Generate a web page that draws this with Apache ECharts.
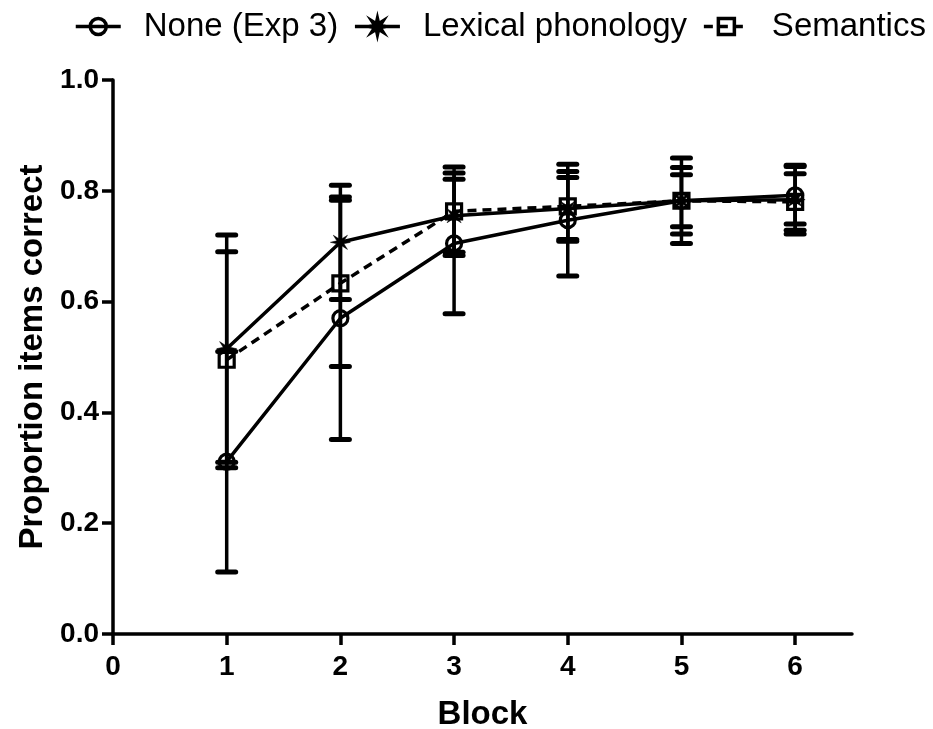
<!DOCTYPE html>
<html><head><meta charset="utf-8">
<script src="https://cdn.jsdelivr.net/npm/echarts@6/dist/echarts.min.js"></script>
<style>html,body{margin:0;padding:0;background:#fff}#c{width:933px;height:729px}</style>
</head><body><div id="c"></div>
<script>
// ---- data ----
const blocks = [1, 2, 3, 4, 5, 6];
const seriesNames = ['None (Exp 3)', 'Lexical phonology', 'Semantics'];
const noneMean = [0.311, 0.570, 0.705, 0.747, 0.782, 0.792];
const noneSD   = [0.199, 0.219, 0.127, 0.101, 0.077, 0.052];
const lexMean  = [0.515, 0.707, 0.755, 0.768, 0.782, 0.784];
const lexSD    = [0.205, 0.103, 0.066, 0.056, 0.060, 0.062];
const semMean  = [0.495, 0.633, 0.763, 0.772, 0.782, 0.780];
const semSD    = [0.195, 0.150, 0.080, 0.063, 0.047, 0.051];
const xTickValues = [0, 1, 2, 3, 4, 5, 6];
const xAxisName = 'Block';
const yAxisName = 'Proportion items correct';

// ---- styling helpers ----
const FONT = '"Liberation Sans", Arial, sans-serif';
function starPath() {
  let pts = [];
  for (let k = 0; k < 8; k++) {
    const a1 = (k * 45 - 90) * Math.PI / 180;
    const a2 = (k * 45 + 22.5 - 90) * Math.PI / 180;
    pts.push([Math.cos(a1) * 10, Math.sin(a1) * 10]);
    pts.push([Math.cos(a2) * 3.8, Math.sin(a2) * 3.8]);
  }
  return 'path://M' + pts.map(p => p[0].toFixed(2) + ',' + p[1].toFixed(2)).join('L') + 'Z';
}
function errRender(params, api) {
  const x = api.value(0), lo = api.value(1), hi = api.value(2);
  const a = api.coord([x, lo]), b = api.coord([x, hi]);
  const hw = 9;
  return {
    type: 'group',
    children: [
      { type: 'line', shape: { x1: a[0], y1: a[1], x2: b[0], y2: b[1] }, style: { stroke: '#000', lineWidth: 3.5 } },
      { type: 'line', shape: { x1: b[0] - hw, y1: b[1], x2: b[0] + hw, y2: b[1] }, style: { stroke: '#000', lineWidth: 5, lineCap: 'round' } },
      { type: 'line', shape: { x1: a[0] - hw, y1: a[1], x2: a[0] + hw, y2: a[1] }, style: { stroke: '#000', lineWidth: 5, lineCap: 'round' } }
    ]
  };
}
function errData(m, s) { return blocks.map((b, i) => [b, m[i] - s[i], m[i] + s[i]]); }
function lineData(m) { return blocks.map((b, i) => [b, m[i]]); }

const means = [noneMean, lexMean, semMean];
const sds = [noneSD, lexSD, semSD];
const symbols = ['circle', starPath(), 'rect'];
const symSizes = [15, 20, 15];

const series = [];
for (let k = 0; k < 3; k++) {
  series.push({
    name: seriesNames[k] + ' SD', type: 'custom', renderItem: errRender,
    data: errData(means[k], sds[k]), z: 2, silent: true, clip: false
  });
}
for (let k = 0; k < 3; k++) {
  const filled = k === 1;
  series.push({
    name: seriesNames[k], type: 'line', data: lineData(means[k]), z: 5,
    symbol: symbols[k], symbolSize: symSizes[k], showAllSymbol: true,
    lineStyle: { color: '#000', width: 3.5, type: k === 2 ? [9, 6] : 'solid' },
    itemStyle: filled ? { color: '#000', borderColor: '#000', borderWidth: 0.5 }
                      : { color: 'rgba(255,255,255,0)', borderColor: '#000', borderWidth: 3.2 },
    emphasis: { disabled: true }, animation: false
  });
}

const chart = echarts.init(document.getElementById('c'), null, { renderer: 'canvas' });
chart.setOption({
  animation: false,
  backgroundColor: '#fff',
  legend: {
    data: seriesNames, left: 69, top: 5, width: 880, itemWidth: 45, itemHeight: 20, itemGap: 15,
    textStyle: { fontSize: 33, color: '#000', fontFamily: FONT, padding: [0, 0, 0, 18] },
    lineStyle: { width: 3.5 },
    itemStyle: { borderWidth: 3.5 },
    selectedMode: false
  },
  grid: { left: 113, right: 81, top: 80, bottom: 95, containLabel: false, outerBoundsMode: 'none' },
  xAxis: {
    type: 'value', min: 0, max: 6.5, interval: 1,
    name: xAxisName, nameLocation: 'middle', nameGap: 64,
    nameTextStyle: { fontSize: 33, fontWeight: 'bold', color: '#000', fontFamily: FONT },
    axisLine: { onZero: false, lineStyle: { color: '#000', width: 3.5 } },
    axisTick: { length: 11, lineStyle: { color: '#000', width: 3.5 }, customValues: xTickValues },
    axisLabel: { fontSize: 28, fontWeight: 'bold', color: '#000', fontFamily: FONT, margin: 19, customValues: xTickValues },
    splitLine: { show: false }
  },
  yAxis: {
    type: 'value', min: 0, max: 1, interval: 0.2,
    name: yAxisName, nameLocation: 'middle', nameGap: 64,
    nameTextStyle: { fontSize: 33, fontWeight: 'bold', color: '#000', fontFamily: FONT },
    axisLine: { onZero: false, lineStyle: { color: '#000', width: 3.5 } },
    axisTick: { length: 11, lineStyle: { color: '#000', width: 3.5 } },
    axisLabel: { fontSize: 28, fontWeight: 'bold', color: '#000', fontFamily: FONT, margin: 14,
                 formatter: v => v.toFixed(1) },
    splitLine: { show: false }
  },
  series: series
});
</script>
</body></html>
